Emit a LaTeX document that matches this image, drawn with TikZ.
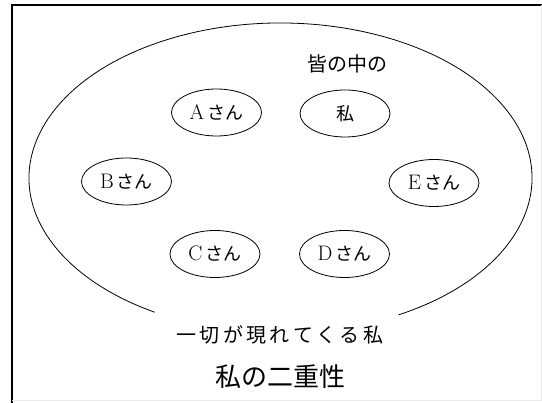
\documentclass[tikz,border=0pt]{standalone}
\usepackage{fontspec}
\newfontfamily\cjk{Noto Sans CJK JP}
\usetikzlibrary{shapes.geometric}
\newcommand{\lat}[1]{{\rmfamily\fontsize{21}{21}\selectfont #1}\,}
\tikzset{
  person/.style={draw, ellipse, line width=0.8pt, minimum width=90pt, minimum height=47pt, inner sep=0pt, font=\cjk\fontsize{18}{18}\selectfont},
  caption/.style={inner sep=0pt, font=\cjk\fontsize{20}{20}\selectfont},
}
\begin{document}
\begin{tikzpicture}[x=1pt,y=-1pt]
\useasboundingbox (0,0) rectangle (542,403);
% frame
\draw[line width=2pt] (12,403) -- (12,5) -- (542,5);
\draw[black!7, line width=1pt] (541,5) -- (541,401) -- (12,401);
% big ellipse with gap at bottom
\draw[line width=0.8pt] (280.5,178) ++(-62:251.5 and -155) arc[start angle=-62, end angle=240, x radius=251.5, y radius=-155];
% nodes
\node[person] (a) at (216.5,112.5) {\lat{A}さん};
\node[person] (w) at (345,113.5) {私};
\node[person] (b) at (126.5,181.5) {\lat{B}さん};
\node[person] (e) at (434,183) {\lat{E}さん};
\node[person] (c) at (215,254) {\lat{C}さん};
\node[person] (d) at (344.5,254) {\lat{D}さん};
\node[caption] (t1) at (347.5,64) {皆の中の};
\node[caption] (t2) at (280,335) {一\,切\,が\,現\,れ\,て\,く\,る\,私};
\node[caption, font=\cjk\fontsize{26}{26}\selectfont] (t3) at (280,377) {私の二重性};
\end{tikzpicture}
\end{document}
